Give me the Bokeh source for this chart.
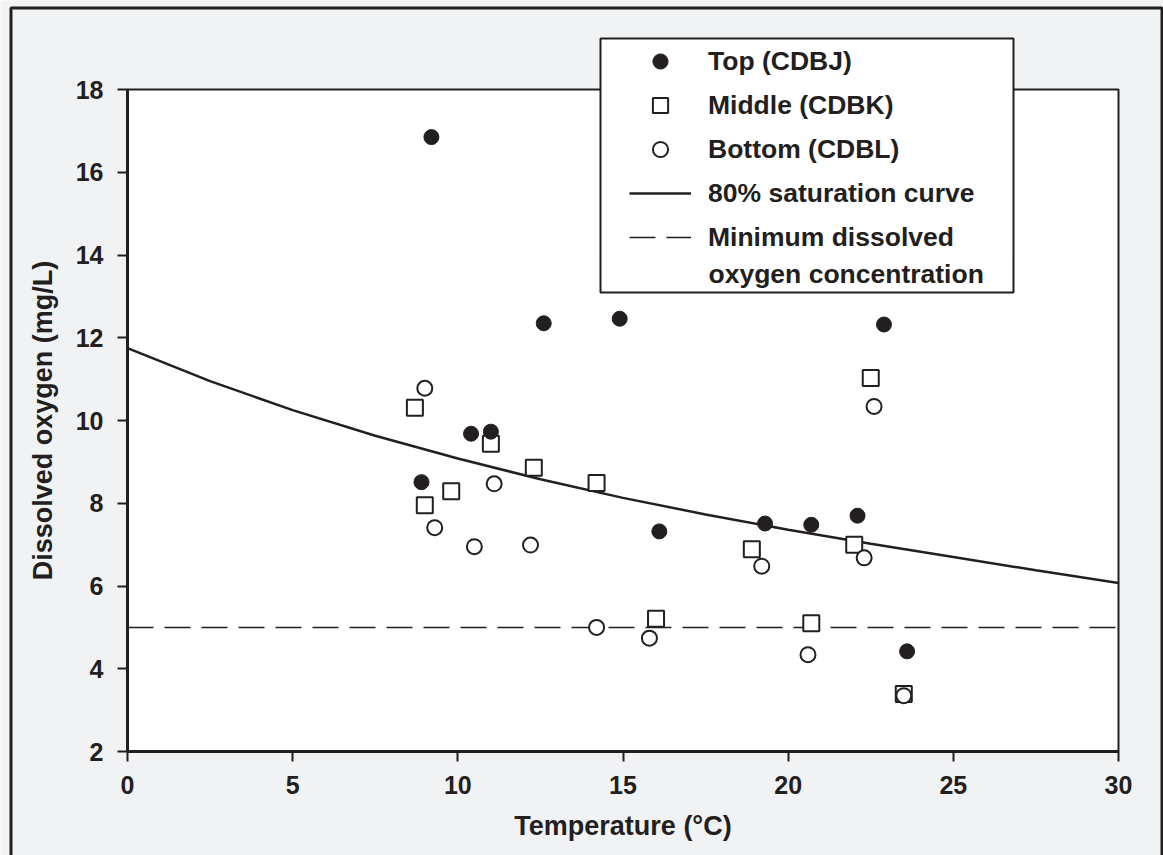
from bokeh.plotting import figure
from bokeh.models import Range1d, FixedTicker, Legend, LegendItem, BoxAnnotation, Label
from bokeh.embed import file_html
from bokeh.resources import INLINE

# ---- data ----
top_temp = [9.2, 12.6, 14.9, 10.4, 11.0, 8.9, 16.1, 22.9, 19.3, 20.7, 22.1, 23.6]
top_do = [16.85, 12.35, 12.46, 9.68, 9.73, 8.51, 7.32, 12.32, 7.51, 7.48, 7.70, 4.42]

mid_temp = [8.7, 11.0, 12.3, 14.2, 9.8, 9.0, 16.0, 22.5, 18.9, 22.0, 20.7, 23.5]
mid_do = [10.31, 9.44, 8.86, 8.49, 8.29, 7.95, 5.21, 11.03, 6.89, 7.00, 5.10, 3.39]

bot_temp = [9.0, 11.1, 9.3, 10.5, 12.2, 14.2, 15.8, 22.6, 19.2, 22.3, 20.6, 23.5]
bot_do = [10.78, 8.47, 7.41, 6.95, 6.99, 5.00, 4.74, 10.34, 6.48, 6.68, 4.34, 3.35]

sat_temp = [0, 2.5, 5, 7.5, 10, 12.5, 15, 17.5, 20, 22.5, 25, 27.5, 30]
sat_do = [11.75, 10.95, 10.25, 9.63, 9.08, 8.58, 8.13, 7.73, 7.36, 7.02, 6.70, 6.38, 6.07]

min_temp = [0, 30]
min_do = [5, 5]

x_ticks = [0, 5, 10, 15, 20, 25, 30]
y_ticks = [2, 4, 6, 8, 10, 12, 14, 16, 18]

labels = ["Top (CDBJ)", "Middle (CDBK)", "Bottom (CDBL)", "80% saturation curve",
          "Minimum dissolved", "oxygen concentration"]

INK = "#231f20"
GRAY = "#f1f2f4"
FONT = "Liberation Sans"

# ---- layout (pixels) ----
W, H = 1163, 855
AX_L, AX_R, AX_T, AX_B = 127, 1118, 89, 751
x0, x1 = x_ticks[0], x_ticks[-1]
y0, y1 = y_ticks[0], y_ticks[-1]
xpp = (x1 - x0) / (AX_R - AX_L)
ypp = (y1 - y0) / (AX_B - AX_T)

p = figure(width=W, height=H, output_backend="svg", toolbar_location=None,
           x_range=Range1d(x0 - AX_L * xpp, x1 + (W - AX_R) * xpp),
           y_range=Range1d(y0 - (H - AX_B) * ypp, y1 + AX_T * ypp),
           min_border=0, border_fill_color=GRAY, background_fill_color=GRAY)
p.title.visible = False
p.grid.visible = False
p.outline_line_color = None

# white plot area
p.add_layout(BoxAnnotation(left=x0, right=x1, bottom=y0, top=y1, fill_color="white",
                           fill_alpha=1, line_alpha=0, level="underlay"))

p.xaxis.ticker = FixedTicker(ticks=x_ticks)
p.yaxis.ticker = FixedTicker(ticks=y_ticks)
p.xaxis.fixed_location = y0
p.yaxis.fixed_location = x0
p.xaxis.bounds = (x0, x1)
p.yaxis.bounds = (y0, y1)
for ax in (p.xaxis, p.yaxis):
    ax.minor_tick_line_color = None
    ax.major_tick_out = 10
    ax.major_tick_in = 0
    ax.major_tick_line_width = 2
    ax.major_tick_line_color = INK
    ax.axis_line_width = 3
    ax.axis_line_color = INK
    ax.major_label_text_font = FONT
    ax.major_label_text_font_size = "25px"
    ax.major_label_text_font_style = "bold"
    ax.major_label_text_color = INK
    ax.axis_label_text_font = FONT
    ax.axis_label_text_font_size = "27px"
    ax.axis_label_text_font_style = "bold"
    ax.axis_label_text_color = INK
p.xaxis.major_label_standoff = 14
p.yaxis.major_label_standoff = 14
p.xaxis.axis_label_standoff = 14
p.yaxis.axis_label_standoff = 15
p.xaxis.axis_label = "Temperature (°C)"
p.yaxis.axis_label = "Dissolved oxygen (mg/L)"

r_curve = p.line(sat_temp, sat_do, line_color=INK, line_width=2.5)
r_min = p.line(min_temp, min_do, line_color=INK, line_width=1.5, line_dash="26 11")
r_mid = p.scatter(mid_temp, mid_do, marker="square", size=16, fill_color="white",
                  line_color=INK, line_width=2)
r_bot = p.scatter(bot_temp, bot_do, marker="circle", size=15, fill_color="white",
                  line_color=INK, line_width=2)
r_top = p.scatter(top_temp, top_do, marker="circle", size=15, fill_color=INK,
                  line_color=INK, line_width=1)

# top/right frame lines
p.add_layout(BoxAnnotation(left=x0, right=x1, bottom=y0, top=y1, fill_alpha=0,
                           line_color=INK, line_alpha=1, line_width=2))

# outer page border (screen pixels from the bottom-left corner)
p.add_layout(BoxAnnotation(left=10.5, right=W - 1.5, top=H - 7.5, bottom=-50,
                           left_units="screen", right_units="screen",
                           top_units="screen", bottom_units="screen",
                           fill_alpha=0, line_color=INK, line_alpha=1, line_width=3))

# legend box
p.add_layout(BoxAnnotation(left=600, right=1013, top=H - 38, bottom=H - 292,
                           left_units="screen", right_units="screen",
                           top_units="screen", bottom_units="screen",
                           fill_color="white", fill_alpha=1, line_color=INK, line_alpha=1,
                           line_width=2))

leg = Legend(items=[LegendItem(label=labels[0], renderers=[r_top]),
                    LegendItem(label=labels[1], renderers=[r_mid]),
                    LegendItem(label=labels[2], renderers=[r_bot]),
                    LegendItem(label=labels[3], renderers=[r_curve]),
                    LegendItem(label=labels[4], renderers=[r_min])],
             location=(629, H - 256), padding=0, margin=0, spacing=6,
             glyph_width=62, glyph_height=38, label_height=38, label_standoff=17,
             border_line_alpha=0, background_fill_alpha=0,
             label_text_font=FONT, label_text_font_size="26.5px",
             label_text_font_style="bold", label_text_color=INK)
p.add_layout(leg)

lab = Label(x=708, y=H - 273, x_units="screen", y_units="screen", text=labels[5],
            text_font=FONT, text_font_size="26.5px", text_font_style="bold",
            text_color=INK, text_baseline="middle", text_align="left")
p.add_layout(lab)

open("out.html", "w").write(file_html(p, INLINE))
